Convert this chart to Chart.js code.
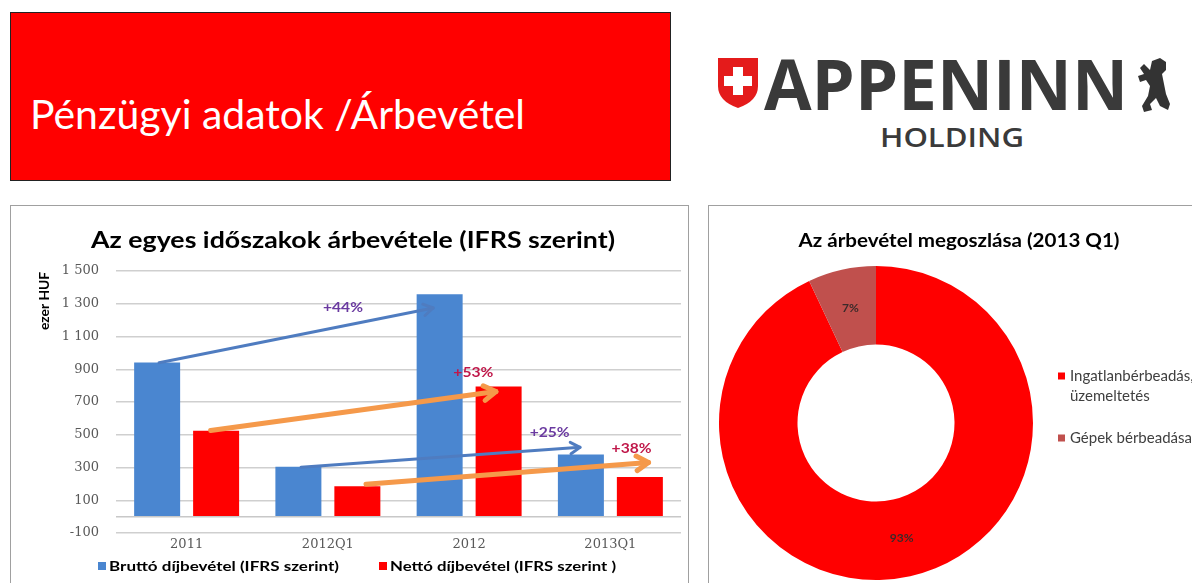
<!DOCTYPE html>
<html>
<head>
<meta charset="utf-8">
<script src="https://cdn.jsdelivr.net/npm/chart.js@4"></script>
<style>
  html, body { margin: 0; padding: 0; background: #fff; overflow: hidden; width: 1192px; height: 583px; }
  #slide { position: absolute; left: 0; top: 0; }
  .panel { position: absolute; border: 1px solid #a0a0a0; background: #fff; }
  #barBox { left: 10px; top: 205px; width: 677px; height: 400px; }
  #pieBox { left: 708px; top: 205px; width: 520px; height: 400px; }
  canvas { position: absolute; left: 0; top: 0; }
</style>
</head>
<body>
<svg id="slide" width="1192" height="583" xmlns="http://www.w3.org/2000/svg">
  <rect x="10.5" y="12.5" width="660" height="168" fill="#ff0000" stroke="#222" stroke-width="1"/>
  <text x="30" y="129" fill="#fff" font-family="Lato" font-size="41" textLength="495" lengthAdjust="spacingAndGlyphs">Pénzügyi adatok /Árbevétel</text>
  <!-- logo -->
  <path d="M718 58 L758 58 L758 86 Q758 101 738 108 Q718 101 718 86 Z" fill="#e41b1b"/>
  <path d="M733 67 h10 v9 h9 v10 h-9 v9 h-10 v-9 h-9 v-10 h9 z" fill="#fff"/>
  <text x="764" y="110" fill="#3a3a3a" font-family="Open Sans" font-weight="700" font-size="70" textLength="364" lengthAdjust="spacingAndGlyphs">APPENINN</text>
  <text x="880" y="147" fill="#3a3a3a" font-family="Open Sans" font-weight="600" font-size="27" textLength="144" lengthAdjust="spacingAndGlyphs">HOLDING</text>
  <path d="M1152 61 L1160 58 L1166 62 L1166 70 L1162 74 L1164 84 L1166 94 L1170 104 L1168 110 L1160 106 L1156 98 L1150 104 L1152 110 L1144 112 L1142 106 L1148 96 L1150 86 L1146 80 L1140 82 L1138 76 L1144 74 L1140 68 L1144 64 L1150 70 Z" fill="#333"/>
</svg>

<div class="panel" id="barBox"><canvas id="barChart" width="677" height="400"></canvas></div>
<div class="panel" id="pieBox"><canvas id="pieChart" width="520" height="400"></canvas></div>

<script>
// bar chart data (ezer HUF)
const periods = ['2011', '2012Q1', '2012', '2013Q1'];
const bruttoLabel = 'Bruttó díjbevétel (IFRS szerint)';
const nettoLabel = 'Nettó díjbevétel (IFRS szerint )';
const brutto = [941, 305, 1358, 380];
const netto = [524, 185, 794, 242];

// growth arrows, in category index / value units
const growthText = ['+44%', '+53%', '+25%', '+38%'];
const growthSeries = ['brutto', 'netto', 'brutto', 'netto'];
const arrowStartX = [-0.195, 0.17, 0.81, 1.27];
const arrowStartY = [940, 526, 301, 197];
const arrowEndX = [1.745, 2.19, 2.785, 3.27];
const arrowEndY = [1274, 764, 423, 331];
const growthTextX = [1.107, 2.03, 2.57, 3.15];
const growthTextY = [1274, 879, 514, 417];

// doughnut data
const shareLabels = [['Ingatlanbérbeadás,', 'üzemeltetés'], ['Gépek bérbeadása']];
const shareValues = [93, 7];

const blue = '#4a86d0';
const red = '#ff0000';
const slateRed = '#c0504d';

function fmt(v) {
    return String(v).replace(/\B(?=(\d{3})+(?!\d))/g, ' ');
}

// draw text stretched/squeezed to a given width
function fitText(ctx, text, x, y, width) {
    let w = ctx.measureText(text).width;
    ctx.save();
    ctx.translate(x, y);
    ctx.scale(width / w, 1);
    ctx.fillText(text, 0, 0);
    ctx.restore();
}

function drawArrow(ctx, x1, y1, x2, y2, color, width, head) {
    let ang = Math.atan2(y2 - y1, x2 - x1);
    ctx.save();
    ctx.strokeStyle = color;
    ctx.lineWidth = width;
    ctx.lineCap = 'round';
    ctx.lineJoin = 'round';
    ctx.beginPath();
    ctx.moveTo(x1, y1);
    ctx.lineTo(x2, y2);
    ctx.stroke();
    ctx.beginPath();
    ctx.moveTo(x2 - head * Math.cos(ang - 0.55), y2 - head * Math.sin(ang - 0.55));
    ctx.lineTo(x2, y2);
    ctx.lineTo(x2 - head * Math.cos(ang + 0.55), y2 - head * Math.sin(ang + 0.55));
    ctx.stroke();
    ctx.restore();
}

const barDecor = {
    id: 'barDecor',
    afterDatasetsDraw(chart) {
        const ctx = chart.ctx;
        const x = chart.scales.x, y = chart.scales.y;
        const area = chart.chartArea;

        // category axis line at zero
        ctx.save();
        ctx.strokeStyle = '#c8c8c8';
        ctx.lineWidth = 1.5;
        ctx.beginPath();
        ctx.moveTo(area.left, y.getPixelForValue(0));
        ctx.lineTo(area.right, y.getPixelForValue(0));
        ctx.stroke();
        ctx.restore();

        // arrows
        for (let i = 0; i < growthText.length; i++) {
            let isBrutto = growthSeries[i] === 'brutto';
            drawArrow(ctx,
                x.getPixelForValue(arrowStartX[i]), y.getPixelForValue(arrowStartY[i]),
                x.getPixelForValue(arrowEndX[i]), y.getPixelForValue(arrowEndY[i]),
                isBrutto ? '#4f7cc0' : '#f5994a', isBrutto ? 3 : 5, isBrutto ? 11 : 14);
            ctx.save();
            ctx.font = 'bold 13px Lato';
            ctx.fillStyle = isBrutto ? '#6a3aa0' : '#c0184a';
            ctx.textAlign = 'center';
            ctx.textBaseline = 'middle';
            fitText(ctx, growthText[i], x.getPixelForValue(growthTextX[i]), y.getPixelForValue(growthTextY[i]), 40);
            ctx.restore();
        }

        ctx.save();
        // title
        ctx.fillStyle = '#000';
        ctx.font = 'bold 22px Lato';
        ctx.textAlign = 'center';
        ctx.textBaseline = 'middle';
        fitText(ctx, 'Az egyes időszakok árbevétele (IFRS szerint)', 342, 35, 524);
        // y axis title
        ctx.save();
        ctx.translate(33, 95);
        ctx.rotate(-Math.PI / 2);
        ctx.font = 'bold 14px Lato';
        fitText(ctx, 'ezer HUF', 0, 0, 58);
        ctx.restore();
        // legend
        ctx.font = 'bold 14px Lato';
        ctx.textAlign = 'left';
        const legendX = [87, 368];
        const legendW = [230, 226];
        chart.data.datasets.forEach((ds, i) => {
            ctx.fillStyle = ds.backgroundColor;
            ctx.fillRect(legendX[i], 356, 8, 8);
            ctx.fillStyle = '#000';
            fitText(ctx, ds.label, legendX[i] + 11, 360.5, legendW[i]);
        });
        ctx.restore();
    }
};

new Chart(document.getElementById('barChart'), {
    type: 'bar',
    data: {
        labels: periods,
        datasets: [
            { label: bruttoLabel, data: brutto, backgroundColor: blue },
            { label: nettoLabel, data: netto, backgroundColor: red }
        ]
    },
    options: {
        responsive: false,
        animation: false,
        barPercentage: 0.78,
        categoryPercentage: 0.835,
        layout: { padding: { top: 65, right: 7, bottom: 0, left: 0 } },
        plugins: { legend: { display: false }, tooltip: { enabled: false } },
        scales: {
            x: {
                grid: { display: false },
                border: { display: false },
                ticks: { color: '#595959', font: { family: 'DejaVu Serif', size: 13 }, padding: -4 },
                afterFit: (s) => { s.height = 73; }
            },
            y: {
                min: -100,
                max: 1500,
                ticks: { stepSize: 200, color: '#595959', font: { family: 'DejaVu Serif', size: 13 }, padding: 17, callback: (v) => fmt(v) },
                grid: { color: '#cfcfcf', lineWidth: 1.5, drawTicks: false },
                border: { display: false },
                afterFit: (s) => { s.width = 105; }
            }
        }
    },
    plugins: [barDecor]
});

const pieDecor = {
    id: 'pieDecor',
    afterDatasetsDraw(chart) {
        const ctx = chart.ctx;
        const meta = chart.getDatasetMeta(0);
        const ds = chart.data.datasets[0];
        const total = ds.data.reduce((a, b) => a + b, 0);
        ctx.save();
        ctx.font = 'bold 12px Lato';
        ctx.fillStyle = '#3a2a2a';
        ctx.textAlign = 'center';
        ctx.textBaseline = 'middle';
        meta.data.forEach((arc, i) => {
            let p = arc.tooltipPosition();
            ctx.fillText(Math.round(ds.data[i] / total * 100) + '%', p.x, p.y);
        });
        // title
        ctx.fillStyle = '#000';
        ctx.font = 'bold 19px Lato';
        fitText(ctx, 'Az árbevétel megoszlása (2013 Q1)', 250, 35, 321);
        // legend
        ctx.font = '15px Lato';
        ctx.textAlign = 'left';
        let ly = 170;
        chart.data.labels.forEach((lab, i) => {
            ctx.fillStyle = ds.backgroundColor[i];
            ctx.fillRect(349, ly - 3.5, 7, 7);
            ctx.fillStyle = '#404040';
            lab.forEach((line, j) => {
                ctx.fillText(line, 361, ly + j * 20);
            });
            ly += lab.length * 20 + 22;
        });
        ctx.restore();
    }
};

new Chart(document.getElementById('pieChart'), {
    type: 'doughnut',
    data: {
        labels: shareLabels,
        datasets: [{
            data: shareValues,
            backgroundColor: [red, slateRed],
            borderWidth: 0,
            hoverOffset: 0,
            offset: 0
        }]
    },
    options: {
        responsive: false,
        animation: false,
        cutout: '50%',
        layout: { padding: { left: 10, top: 60, right: 196, bottom: 26 } },
        plugins: { legend: { display: false }, tooltip: { enabled: false } }
    },
    plugins: [pieDecor]
});
</script>
</body>
</html>
